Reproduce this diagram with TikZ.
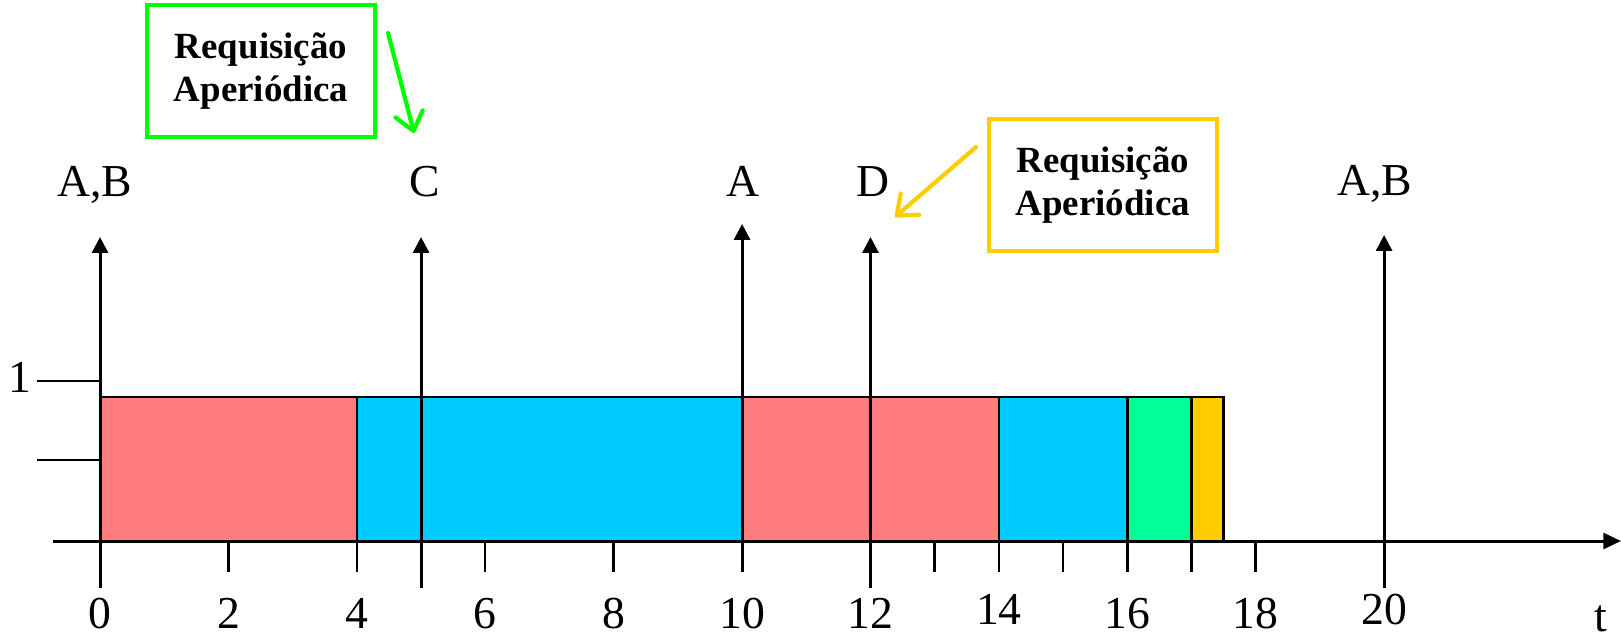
\documentclass[tikz,border=0pt]{standalone}
\usepackage{fontspec}
\setmainfont{Liberation Serif}
\usetikzlibrary{arrows.meta}
\definecolor{jobA}{HTML}{FF7C80}
\definecolor{jobB}{HTML}{00CCFF}
\definecolor{jobC}{HTML}{00FF99}
\definecolor{jobD}{HTML}{FFCC00}
\definecolor{reqgreen}{HTML}{00FF00}
\definecolor{reqyellow}{HTML}{FFCC00}

\begin{document}
\begin{tikzpicture}[x=0.642cm,y=1cm,
  font=\fontsize{13pt}{15pt}\selectfont,
  slot/.style={draw=black,line width=0.7pt},
  timeaxis/.style={line width=0.85pt,-{Triangle[length=5pt,width=4.5pt]}},
  evt/.style={line width=0.85pt,-{Triangle[length=4.5pt,width=4.5pt]}},
  tickmark/.style={line width=0.7pt},
  lbl/.style={anchor=base,inner sep=0pt},
  req/.style={draw=#1,line width=1.3pt,minimum width=2.28cm,minimum height=1.32cm,align=center,inner sep=0pt,font=\fontsize{10.5pt}{12.2pt}\selectfont\bfseries},
  reqarr/.style={draw=#1,line width=1.2pt,line cap=round,-{Straight Barb[length=5pt,width=8pt,round]}}
]
\useasboundingbox (-1.558,-0.95) rectangle (23.69,5.41);
\foreach \a/\b/\c in {0/4/jobA,4/10/jobB,10/14/jobA,14/16/jobB,16/17/jobC,17/17.5/jobD}
  \draw[slot,fill=\c] (\a,0) rectangle (\b,1.44);
\draw[tickmark] (-0.98,1.6) -- (0,1.6);
\draw[tickmark] (-0.98,0.81) -- (0,0.81);
\node[lbl] (one) at (-1.246,1.49) {1};
\foreach \t in {2,4,6,8,13,14,15,16,17,18}
  \draw[tickmark] (\t,0) -- (\t,-0.31);
\coordinate (ax0) at (-0.73,0);
\coordinate (ax1) at (23.69,0);
\draw[timeaxis] (ax0) -- (ax1);
\foreach \t/\b/\e in {0/-0.47/3.04,5/-0.47/3.04,10/-0.31/3.17,12/-0.47/3.04,20/-0.47/3.06}{
  \coordinate (b\t) at (\t,\b);
  \coordinate (e\t) at (\t,\e);
  \draw[evt] (b\t) -- (e\t);
}
\foreach \t in {0,2,4,6,8,10,12,16,18}
  \node[lbl] (n\t) at (\t,-0.87) {\t};
\node[lbl] (n14) at (14,-0.83) {14};
\node[lbl] (n20) at (20,-0.83) {20};
\node[lbl] (tlab) at (23.38,-0.9) {t};
\node[lbl] (lab0) at (-0.08,3.44) {A,B};
\node[lbl] (lab5) at (5.05,3.44) {C};
\node[lbl] (lab10) at (10.02,3.44) {A};
\node[lbl] (lab12) at (12.04,3.44) {D};
\node[lbl] (lab20) at (19.85,3.45) {A,B};
\node[req=reqgreen] (reqC) at (2.508,4.7) {Requisição\\Aperiódica};
\node[req=reqyellow] (reqD) at (15.62,3.56) {Requisição\\Aperiódica};
\coordinate (gs) at (4.486,5.08);
\coordinate (ge) at (4.891,4.08);
\draw[reqarr=reqgreen] (gs) -- (ge);
\coordinate (ys) at (13.645,3.94);
\coordinate (ye) at (12.383,3.24);
\draw[reqarr=reqyellow] (ys) -- (ye);
\end{tikzpicture}
\end{document}
